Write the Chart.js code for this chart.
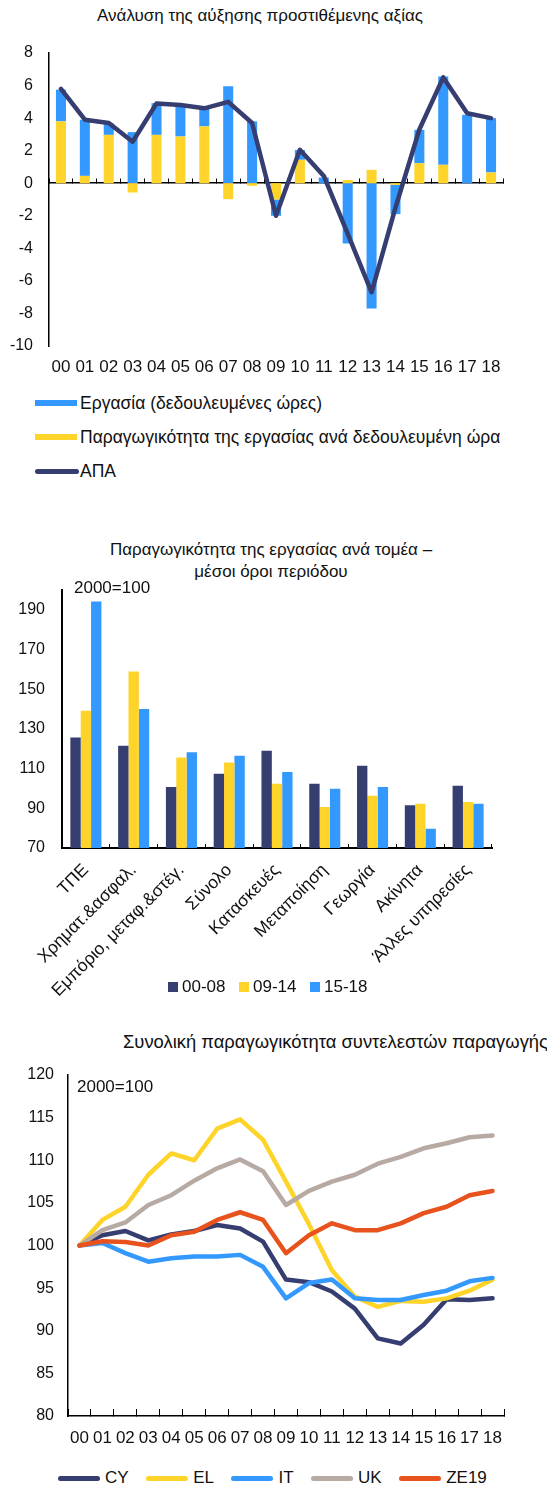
<!DOCTYPE html>
<html><head><meta charset="utf-8">
<script src="https://cdn.jsdelivr.net/npm/chart.js@4.4.1/dist/chart.umd.min.js"></script>
<style>
html,body{margin:0;padding:0;background:#fff;}
body{width:547px;height:1488px;position:relative;overflow:hidden;font-family:"Liberation Sans",Arial,sans-serif;color:#111;}
canvas{position:absolute;left:0;}
.t{position:absolute;font-size:17px;white-space:nowrap;line-height:22px;}
.leg{position:absolute;font-size:17px;white-space:nowrap;}
.row{display:flex;align-items:center;height:20px;}
.sw{flex:none;}
</style></head><body>
<div class="t" style="left:0;width:520px;text-align:center;top:5px;">Ανάλυση της αύξησης προστιθέμενης αξίας</div>
<canvas id="c1" width="547" height="392" style="top:0"></canvas>
<div class="leg" id="leg1" style="left:35px;top:393px;font-size:17.5px;"></div>

<div class="t" style="left:0;width:542px;text-align:center;top:539px;">Παραγωγικότητα της εργασίας ανά τομέα –<br>μέσοι όροι περιόδου</div>
<canvas id="c2" width="547" height="440" style="top:575px"></canvas>
<div class="t" style="left:74px;top:577px;font-size:17px;">2000=100</div>
<div class="leg" id="leg2" style="left:168px;top:977px;"></div>

<div class="t" style="left:123px;top:1031px;font-size:18.4px;">Συνολική παραγωγικότητα συντελεστών παραγωγής</div>
<canvas id="c3" width="547" height="400" style="top:1060px"></canvas>
<div class="t" style="left:77px;top:1076px;font-size:17px;">2000=100</div>
<div class="leg" id="leg3" style="left:58px;top:1468px;"></div>

<script>
// ---------- data ----------
const years = ['00','01','02','03','04','05','06','07','08','09','10','11','12','13','14','15','16','17','18'];

// Chart 1: growth decomposition of gross value added
const labourHours = [1.95, 3.45, 0.72, 3.14, 1.95, 1.95, 1.1, 5.95, 3.8, -1.0, 0.6, 0.35, -3.7, -7.7, -1.8, 2.05, 5.43, 4.2, 3.34];
const productivityPerHour = [3.8, 0.45, 2.97, -0.57, 2.97, 2.87, 3.49, -0.98, -0.16, -1.0, 1.44, 0, 0.2, 0.82, -0.1, 1.23, 1.13, 0, 0.66];
const gva = [5.8, 3.9, 3.7, 2.55, 4.9, 4.8, 4.6, 5.0, 3.7, -2.0, 2.05, 0.45, -3.1, -6.7, -1.5, 3.3, 6.5, 4.3, 4.0];

// Chart 2: labour productivity by sector, period averages
const sectors = ['ΤΠΕ', 'Χρηματ.&ασφαλ.', 'Εμπόριο, μεταφ.&στέγ.', 'Σύνολο', 'Κατασκευές', 'Μεταποίηση', 'Γεωργία', 'Ακίνητα', 'Άλλες υπηρεσίες'];
const p0008 = [125.7, 121.5, 100.7, 107.4, 119.0, 102.4, 111.4, 91.5, 101.4];
const p0914 = [139.1, 158.9, 115.6, 113.1, 102.4, 90.6, 96.3, 92.3, 93.2];
const p1518 = [194.2, 140.0, 118.3, 116.5, 108.3, 99.9, 100.7, 79.7, 92.3];
const sectorTicks = [70, 90, 110, 130, 150, 170, 190];

// Chart 3: total factor productivity
const tfpCY = [100, 101.2, 101.7, 100.6, 101.3, 101.7, 102.4, 102.0, 100.45, 96.0, 95.7, 94.6, 92.6, 89.1, 88.5, 90.7, 93.7, 93.6, 93.8];
const tfpEL = [100, 103.0, 104.55, 108.3, 110.8, 110.0, 113.7, 114.8, 112.4, 107.5, 102.5, 97.1, 94.0, 92.8, 93.5, 93.4, 93.8, 94.7, 96.0];
const tfpIT = [100, 100.3, 99.1, 98.1, 98.5, 98.7, 98.7, 98.9, 97.5, 93.8, 95.6, 96.0, 93.8, 93.6, 93.6, 94.2, 94.7, 95.8, 96.2];
const tfpUK = [100, 101.8, 102.7, 104.75, 105.9, 107.6, 109.05, 110.1, 108.7, 104.75, 106.4, 107.5, 108.3, 109.6, 110.4, 111.4, 112.0, 112.7, 112.9];
const tfpZE19 = [100, 100.5, 100.4, 100.0, 101.2, 101.6, 103.0, 103.9, 103.0, 99.1, 101.2, 102.6, 101.8, 101.8, 102.6, 103.8, 104.55, 105.9, 106.4];

// ---------- styles ----------
const NAVY = '#363d70', BLUE = '#3399ff', YELLOW = '#ffd42a', GREY = '#b6aaa3', ORANGE = '#e8531d';
const FAMILY = '"Liberation Sans", Arial, sans-serif';
Chart.defaults.font = {family: FAMILY, size: 16};
Chart.defaults.color = '#111';
const XFONT = {family: FAMILY, size: 17};

const base = {
  animation: false, responsive: false, devicePixelRatio: 1,
  plugins: {legend: {display: false}, tooltip: {enabled: false}}
};
function zeroPad(s) { s.paddingLeft = 0; s.paddingRight = 0; s.paddingTop = 0; s.paddingBottom = 0; }

// ---------- chart 1 ----------
const ch1 = new Chart(document.getElementById('c1'), {
  type: 'bar',
  data: {
    labels: years,
    datasets: [
      {label: 'Παραγωγικότητα της εργασίας ανά δεδουλευμένη ώρα', data: productivityPerHour, backgroundColor: YELLOW, stack: 's', categoryPercentage: 1, barPercentage: 0.42},
      {label: 'Εργασία (δεδουλευμένες ώρες)', data: labourHours, backgroundColor: BLUE, stack: 's', categoryPercentage: 1, barPercentage: 0.42},
      {type: 'line', label: 'ΑΠΑ', data: gva, borderColor: NAVY, backgroundColor: NAVY, borderWidth: 4.5, pointRadius: 0, stack: 'line', order: -1, borderJoinStyle: 'round', borderCapStyle: 'round', tension: 0}
    ]
  },
  options: Object.assign({}, base, {
    layout: {padding: {top: 53, right: 44, left: 0, bottom: 0}},
    scales: {
      x: {stacked: true, offset: true, grid: {display: false, drawTicks: false}, border: {display: false},
          ticks: {padding: 11, maxRotation: 0, autoSkip: false, font: XFONT},
          afterFit(s) { s.height = 46; zeroPad(s); }},
      x2: {type: 'category', position: {y: 0}, offset: true,
           grid: {offset: true, drawOnChartArea: false, tickLength: -5, color: '#000', lineWidth: 1},
           border: {color: '#000', width: 1.5}, ticks: {display: false},
           afterFit(s) { zeroPad(s); }},
      y: {stacked: true, min: -10, max: 8, ticks: {stepSize: 2, padding: 16},
          grid: {display: false, drawTicks: false}, border: {color: '#000', width: 1.5},
          afterFit(s) { s.width = 49; zeroPad(s); }}
    }
  })
});

// ---------- chart 2 ----------
const ch2 = new Chart(document.getElementById('c2'), {
  type: 'bar',
  data: {
    labels: sectors,
    datasets: [
      {label: '00-08', data: p0008, backgroundColor: NAVY, categoryPercentage: 0.65, barPercentage: 1},
      {label: '09-14', data: p0914, backgroundColor: YELLOW, categoryPercentage: 0.65, barPercentage: 1},
      {label: '15-18', data: p1518, backgroundColor: BLUE, categoryPercentage: 0.65, barPercentage: 1}
    ]
  },
  options: Object.assign({}, base, {
    layout: {padding: {top: 15, right: 55, left: 0, bottom: 0}},
    scales: {
      x: {offset: true, grid: {offset: true, drawOnChartArea: false, tickLength: -4, color: '#000', lineWidth: 1},
          border: {color: '#000', width: 2},
          ticks: {minRotation: 45, maxRotation: 45, padding: 16, autoSkip: false, font: {family: FAMILY, size: 17.5}},
          afterFit(s) { s.height = 167; zeroPad(s); }},
      y: {min: 70, max: 200, ticks: {padding: 17},
          afterBuildTicks(s) { s.ticks = sectorTicks.map(v => ({value: v})); },
          grid: {display: false, drawTicks: false}, border: {color: '#000', width: 2},
          afterFit(s) { s.width = 62; zeroPad(s); }}
    }
  })
});

// ---------- chart 3 ----------
function lineDs(label, data, color, order) {
  return {label, data, borderColor: color, backgroundColor: color, borderWidth: 4.5, pointRadius: 0,
          borderJoinStyle: 'round', borderCapStyle: 'round', tension: 0, order};
}
const ch3 = new Chart(document.getElementById('c3'), {
  type: 'line',
  data: {
    labels: years,
    datasets: [
      lineDs('CY', tfpCY, NAVY, 5),
      lineDs('EL', tfpEL, YELLOW, 4),
      lineDs('IT', tfpIT, BLUE, 3),
      lineDs('UK', tfpUK, GREY, 2),
      lineDs('ZE19', tfpZE19, ORANGE, 1)
    ]
  },
  options: Object.assign({}, base, {
    layout: {padding: {top: 15, right: 43, left: 0, bottom: 0}},
    scales: {
      x: {offset: true, grid: {offset: true, drawOnChartArea: false, tickLength: -7, color: '#000', lineWidth: 1},
          border: {color: '#000', width: 1.5},
          ticks: {padding: 19, maxRotation: 0, autoSkip: false, font: XFONT},
          afterFit(s) { s.height = 44; zeroPad(s); }},
      y: {min: 80, max: 120, ticks: {stepSize: 5, padding: 14},
          grid: {display: false, drawTicks: false}, border: {color: '#000', width: 1.5},
          afterFit(s) { s.width = 68; zeroPad(s); }}
    }
  })
});

// ---------- HTML legends built from the datasets ----------
function makeLegend(el, chart, order, kind, gapAfter, vertical) {
  const dss = chart.data.datasets;
  order.forEach((i, k) => {
    const ds = dss[i];
    const item = document.createElement('div');
    item.className = 'row';
    item.style.display = vertical ? 'flex' : 'inline-flex';
    item.style.verticalAlign = 'top';
    if (vertical && k > 0) item.style.marginTop = '14px';
    if (!vertical) item.style.marginRight = gapAfter + 'px';
    const sw = document.createElement('span');
    sw.className = 'sw';
    const isLine = (ds.type || chart.config.type) === 'line';
    const k2 = isLine ? kind.line : kind.box;
    sw.style.width = k2.w + 'px'; sw.style.height = k2.h + 'px';
    sw.style.background = isLine ? ds.borderColor : ds.backgroundColor;
    if (k2.r) sw.style.borderRadius = k2.r + 'px';
    sw.style.marginRight = k2.gap + 'px';
    const tx = document.createElement('span');
    tx.textContent = ds.label;
    item.appendChild(sw); item.appendChild(tx);
    el.appendChild(item);
  });
}
makeLegend(document.getElementById('leg1'), ch1, [1, 0, 2],
  {box: {w: 42, h: 6, gap: 3}, line: {w: 44, h: 5, r: 3, gap: 1}}, 0, true);
makeLegend(document.getElementById('leg2'), ch2, [0, 1, 2],
  {box: {w: 10, h: 10, gap: 4}, line: {w: 10, h: 10, gap: 4}}, 13.5, false);
makeLegend(document.getElementById('leg3'), ch3, [0, 1, 2, 3, 4],
  {box: {w: 42, h: 5, r: 3, gap: 5}, line: {w: 42, h: 5, r: 3, gap: 5}}, 17.5, false);
</script>
</body></html>
